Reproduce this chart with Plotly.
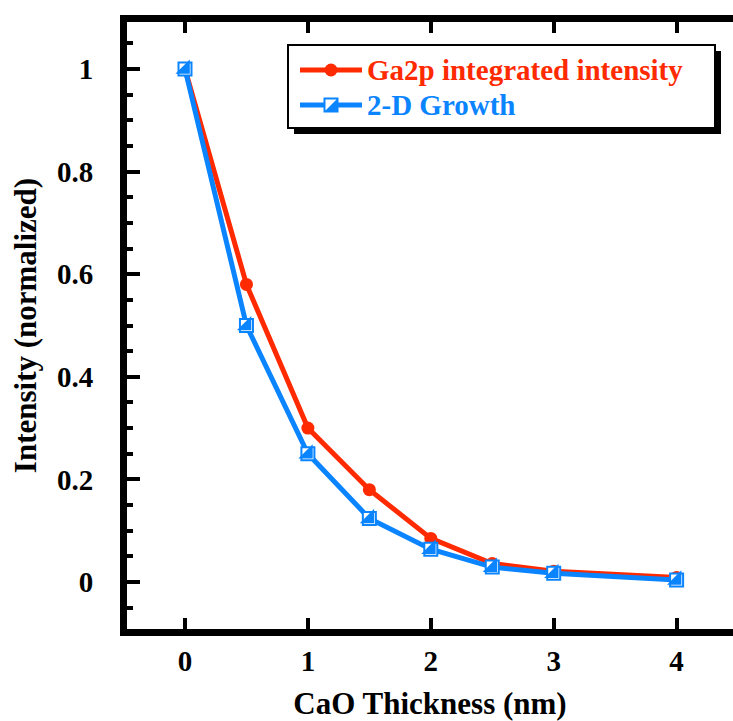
import plotly.graph_objects as go

# CaO overlayer thickness (nm) and normalized Ga2p signal
thickness = [0, 0.5, 1.0, 1.5, 2.0, 2.5, 3.0, 4.0]
ga2p_intensity = [1.0, 0.58, 0.30, 0.18, 0.085, 0.036, 0.021, 0.009]
growth_2d = [1.0, 0.50, 0.25, 0.124, 0.064, 0.029, 0.017, 0.004]

x_ticks = [0, 1, 2, 3, 4]
y_ticks = [0, 0.2, 0.4, 0.6, 0.8, 1.0]
y_tick_text = ["0", "0.2", "0.4", "0.6", "0.8", "1"]

series_names = ["Ga2p integrated intensity", "2-D Growth"]

RED = "#ff2a00"
BLUE = "#0b84ff"
FONT = "'Liberation Serif', 'Times New Roman', Times, serif"

W, H = 733, 721
L, R, T, B = 127, 0, 22, 92
plot_w = W - L - R
plot_h = H - T - B

# axis scales (px per data unit) and ranges
x_ppu = 122.9
y_ppu = 513.0
x0_px = 185 - L          # pixel offset of x=0 from left edge of plot
y0_px = 629 - 582        # pixel offset of y=0 from bottom of plot
x_range = [-x0_px / x_ppu, (plot_w - x0_px) / x_ppu]
y_range = [-y0_px / y_ppu, (plot_h - y0_px) / y_ppu]


def px(x):
    """page x (px) -> paper x"""
    return (x - L) / plot_w


def py(y):
    """page y (px, from top) -> paper y"""
    return (H - B - y) / plot_h


fig = go.Figure()

fig.add_trace(go.Scatter(
    x=thickness, y=ga2p_intensity, mode="lines+markers",
    name=series_names[0], showlegend=False,
    line=dict(color=RED, width=5),
    marker=dict(symbol="circle", size=13, color=RED),
))

fig.add_trace(go.Scatter(
    x=thickness, y=growth_2d, mode="lines+markers",
    name=series_names[1], showlegend=False,
    line=dict(color=BLUE, width=5),
    marker=dict(symbol="square", size=13, color="white",
                line=dict(color=BLUE, width=2)),
))

# half-filled square: filled lower-right triangle over the open square
fig.add_trace(go.Scatter(
    x=thickness, y=growth_2d, mode="markers", showlegend=False,
    marker=dict(symbol="triangle-se", size=16, color=BLUE,
                line=dict(width=0)),
    hoverinfo="skip",
))

tickfont = dict(family=FONT, size=29, color="black", weight="bold")
titlefont = dict(family=FONT, size=31, color="black", weight="bold")

fig.update_layout(
    width=W, height=H,
    margin=dict(l=L, r=R, t=T, b=B, pad=0),
    paper_bgcolor="white", plot_bgcolor="white",
    font=dict(family=FONT),
    showlegend=False,
    xaxis=dict(
        range=x_range, tickvals=x_ticks, ticktext=[str(v) for v in x_ticks],
        showline=True, linecolor="black", linewidth=7, mirror="ticks",
        ticks="inside", ticklen=11, tickwidth=4, tickcolor="black",
        showgrid=False, zeroline=False, tickfont=tickfont,
        title=dict(text="CaO Thickness (nm)", font=titlefont, standoff=22),
    ),
    yaxis=dict(
        range=y_range, tickvals=y_ticks, ticktext=y_tick_text,
        showline=True, linecolor="black", linewidth=7, mirror=False,
        ticks="inside", ticklen=13, tickwidth=4, tickcolor="black",
        minor=dict(ticks="inside", ticklen=6, tickwidth=4,
                   tickcolor="black", dtick=0.05, tick0=0),
        showgrid=False, zeroline=False, tickfont=tickfont,
        ticklabelstandoff=21,
        title=dict(text="Intensity (normalized)", font=titlefont, standoff=14),
    ),
    yaxis2=dict(
        overlaying="y", side="right", anchor="x",
        range=y_range, tickvals=y_ticks, showticklabels=False,
        showline=False, ticks="inside", ticklen=11, tickwidth=4,
        tickcolor="black",
        minor=dict(ticks="inside", ticklen=4, tickwidth=4,
                   tickcolor="black", dtick=0.05, tick0=0),
        showgrid=False, zeroline=False,
    ),
)

# ---- legend box with drop shadow ----
box = dict(x0=288, x1=715, y0=45, y1=128)
shadow = 6
fig.add_shape(type="rect", xref="paper", yref="paper", layer="above",
              x0=px(box["x0"] + shadow), x1=px(box["x1"] + shadow),
              y0=py(box["y1"] + shadow), y1=py(box["y0"] + shadow),
              fillcolor="black", line=dict(width=0))
fig.add_shape(type="rect", xref="paper", yref="paper", layer="above",
              x0=px(box["x0"]), x1=px(box["x1"]),
              y0=py(box["y1"]), y1=py(box["y0"]),
              fillcolor="white", line=dict(color="black", width=2))

rows = [70, 105]
sym_x0, sym_x1 = 300, 362
sym_c = (sym_x0 + sym_x1) / 2
legend_font = dict(family=FONT, size=29, weight="bold")

# row 1: red line with filled circle
fig.add_shape(type="line", xref="paper", yref="paper", layer="above",
              x0=px(sym_x0), x1=px(sym_x1), y0=py(rows[0]), y1=py(rows[0]),
              line=dict(color=RED, width=5))
fig.add_shape(type="circle", xref="paper", yref="paper", layer="above",
              x0=px(sym_c - 6.5), x1=px(sym_c + 6.5),
              y0=py(rows[0] + 6.5), y1=py(rows[0] - 6.5),
              fillcolor=RED, line=dict(width=0))

# row 2: blue line with half-filled square
fig.add_shape(type="line", xref="paper", yref="paper", layer="above",
              x0=px(sym_x0), x1=px(sym_x1), y0=py(rows[1]), y1=py(rows[1]),
              line=dict(color=BLUE, width=5))
fig.add_shape(type="rect", xref="paper", yref="paper", layer="above",
              x0=px(sym_c - 6.5), x1=px(sym_c + 6.5),
              y0=py(rows[1] + 6.5), y1=py(rows[1] - 6.5),
              fillcolor="white", line=dict(color=BLUE, width=2))
fig.add_shape(type="path", xref="paper", yref="paper", layer="above",
              path=(f"M {px(sym_c + 6.5)},{py(rows[1] - 6.5)} "
                    f"L {px(sym_c + 6.5)},{py(rows[1] + 6.5)} "
                    f"L {px(sym_c - 6.5)},{py(rows[1] + 6.5)} Z"),
              fillcolor=BLUE, line=dict(width=0))

for name, color, row in zip(series_names, [RED, BLUE], rows):
    fig.add_annotation(
        xref="paper", yref="paper", x=px(366), y=py(row),
        xanchor="left", yanchor="middle", showarrow=False, borderpad=0,
        text=name, font=dict(color=color, **legend_font),
    )

fig.write_html("out.html")
